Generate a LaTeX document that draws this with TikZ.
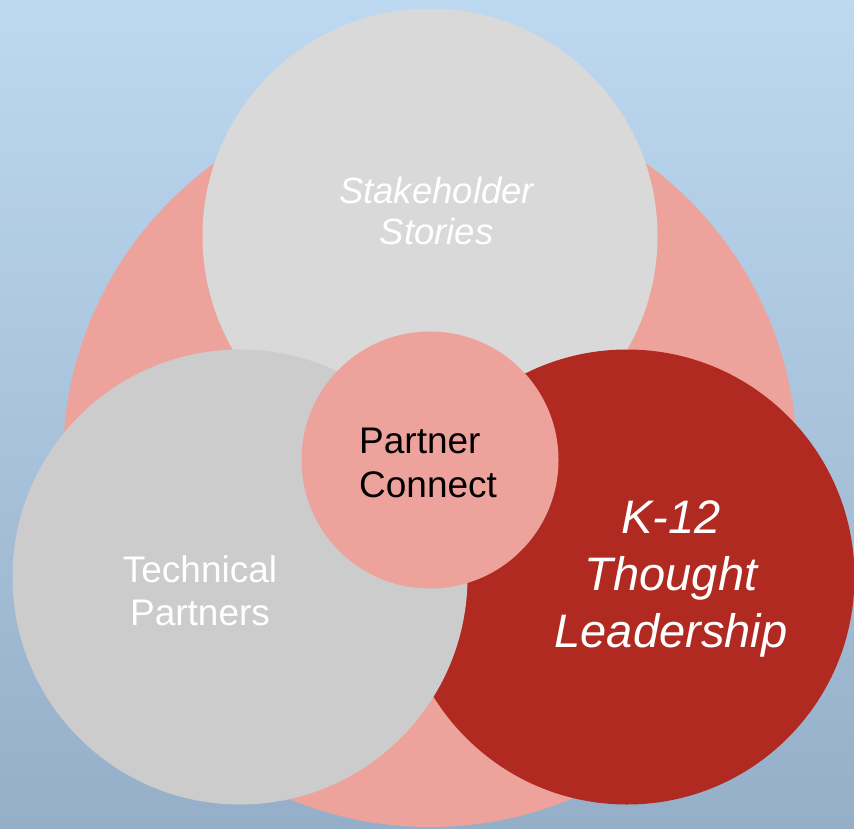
\documentclass[tikz,border=0pt]{standalone}
\usepackage{fontspec}
\setmainfont{Liberation Sans}
\definecolor{bgtop}{RGB}{189,216,241}
\definecolor{bgbot}{RGB}{150,175,200}
\definecolor{pinkc}{RGB}{237,163,155}
\definecolor{graytop}{RGB}{217,217,217}
\definecolor{grayleft}{RGB}{204,204,204}
\definecolor{redc}{RGB}{176,42,33}
\tikzset{
  disc/.style={circle, inner sep=0pt, draw=none},
  lbl/.style={inner sep=0pt, anchor=base, align=center, text=white}
}
\begin{document}
\begin{tikzpicture}[x=1pt, y=-1pt]
\useasboundingbox (0,0) rectangle (854,828);
\shade[top color=bgtop, bottom color=bgbot] (0,0) rectangle (854,828);
\begin{scope}
\clip (0,0) rectangle (854,828);
\node[disc, fill=pinkc, minimum size=734pt] (outer) at (430,460) {};
\node[disc, fill=graytop, minimum size=455pt] (top) at (430,236) {};
\node[disc, fill=redc, minimum size=455pt] (right) at (627,577) {};
\node[disc, fill=grayleft, minimum size=455pt] (left) at (240,577) {};
\node[disc, fill=pinkc, minimum size=257pt] (center) at (430,460) {};
\end{scope}
\node[lbl, font=\fontsize{36.5}{41}\selectfont\itshape] (stake) at (436.5,244) {Stakeholder\\Stories};
\node[lbl, font=\fontsize{37}{43}\selectfont] (tech) at (200,625) {Technical\\Partners};
\node[lbl, anchor=base west, align=left, text=black, font=\fontsize{37}{44}\selectfont] (pc) at (359,497) {Partner\\Connect};
\node[lbl, font=\fontsize{47}{57}\selectfont\itshape] (k12) at (671,647) {K-12\\Thought\\Leadership};
\end{tikzpicture}
\end{document}
